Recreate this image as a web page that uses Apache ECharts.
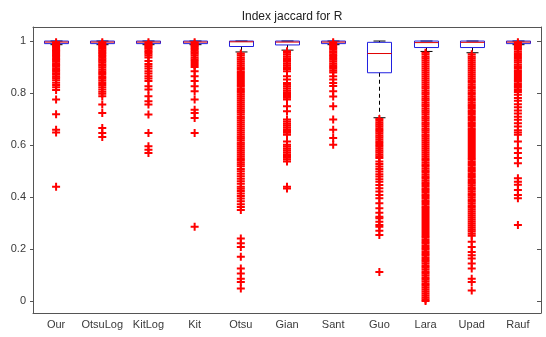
<!DOCTYPE html>
<html><head><meta charset="utf-8">
<script src="https://cdn.jsdelivr.net/npm/echarts@6/dist/echarts.min.js"></script>
<style>html,body{margin:0;padding:0;background:#fff}#c{width:546px;height:337px}</style>
</head><body><div id="c"></div>
<script>
const categories = ['Our','OtsuLog','KitLog','Kit','Otsu','Gian','Sant','Guo','Lara','Upad','Rauf'];
const yTicks = [0, 0.2, 0.4, 0.6, 0.8, 1];

// box statistics per category
const lowerWhisker = [0.986, 0.986, 0.986, 0.986, 0.958, 0.965, 0.986, 0.705, 0.960, 0.955, 0.986];
const q1           = [0.990, 0.990, 0.990, 0.990, 0.979, 0.985, 0.990, 0.878, 0.975, 0.975, 0.990];
const median       = [0.996, 0.996, 0.996, 0.996, 0.997, 0.996, 0.996, 0.952, 0.994, 0.995, 0.996];
const q3           = [1.000, 1.000, 1.000, 1.000, 1.000, 1.000, 1.000, 0.995, 1.000, 1.000, 1.000];
const upperWhisker = [1.000, 1.000, 1.000, 1.000, 1.000, 1.000, 1.000, 1.000, 1.000, 1.000, 1.000];

// outliers per category
const outOur = [0.995,0.99,0.986,0.981,0.976,0.971,0.966,0.962,0.957,0.952,0.947,0.942,0.937,0.931,0.926,0.92,0.914,0.908,0.902,0.895,0.889,0.883,0.876,0.87,0.863,0.857,0.849,0.84,0.831,0.822,0.812,0.775,0.718,0.659,0.648,0.44];
const outOtsuLog = [0.995,0.99,0.985,0.98,0.975,0.97,0.965,0.96,0.954,0.948,0.942,0.936,0.93,0.924,0.918,0.911,0.905,0.898,0.891,0.884,0.877,0.87,0.862,0.855,0.847,0.839,0.831,0.822,0.814,0.805,0.797,0.788,0.756,0.723,0.666,0.646,0.631];
const outKitLog = [0.995,0.99,0.985,0.98,0.975,0.97,0.964,0.958,0.951,0.944,0.937,0.923,0.912,0.903,0.894,0.884,0.875,0.865,0.856,0.846,0.826,0.814,0.788,0.768,0.756,0.717,0.646,0.595,0.582,0.569];
const outKit = [0.995,0.99,0.985,0.98,0.975,0.969,0.963,0.957,0.951,0.944,0.937,0.93,0.923,0.916,0.908,0.9,0.884,0.865,0.846,0.826,0.807,0.775,0.736,0.723,0.704,0.646,0.286];
const outOtsu = [0.952,0.945,0.937,0.93,0.922,0.915,0.907,0.899,0.892,0.884,0.877,0.869,0.862,0.854,0.846,0.839,0.831,0.824,0.816,0.808,0.801,0.793,0.786,0.778,0.77,0.763,0.755,0.747,0.74,0.732,0.725,0.717,0.709,0.702,0.694,0.687,0.679,0.671,0.664,0.656,0.648,0.641,0.633,0.626,0.618,0.61,0.603,0.595,0.588,0.58,0.572,0.565,0.557,0.549,0.542,0.534,0.526,0.518,0.508,0.499,0.49,0.48,0.47,0.461,0.451,0.44,0.432,0.423,0.414,0.404,0.394,0.384,0.372,0.362,0.35,0.241,0.222,0.208,0.17,0.125,0.106,0.086,0.073,0.048];
const outGian = [0.961,0.955,0.948,0.941,0.934,0.927,0.92,0.913,0.906,0.899,0.892,0.884,0.865,0.852,0.839,0.832,0.825,0.817,0.81,0.803,0.796,0.789,0.782,0.775,0.749,0.73,0.698,0.691,0.683,0.676,0.668,0.661,0.654,0.647,0.64,0.614,0.601,0.594,0.587,0.58,0.572,0.565,0.558,0.551,0.544,0.537,0.44,0.433];
const outSant = [0.995,0.99,0.985,0.979,0.973,0.967,0.961,0.955,0.948,0.942,0.935,0.928,0.921,0.914,0.907,0.9,0.893,0.886,0.879,0.865,0.852,0.839,0.827,0.807,0.787,0.749,0.698,0.659,0.627,0.601];
const outGuo = [0.7,0.693,0.686,0.679,0.672,0.665,0.658,0.651,0.644,0.637,0.63,0.622,0.615,0.608,0.6,0.593,0.586,0.578,0.571,0.564,0.557,0.55,0.537,0.527,0.517,0.508,0.498,0.488,0.479,0.468,0.459,0.446,0.434,0.421,0.408,0.395,0.376,0.357,0.34,0.324,0.318,0.305,0.292,0.286,0.27,0.254,0.112];
const outLara = [0.955,0.948,0.94,0.933,0.925,0.917,0.91,0.902,0.894,0.887,0.879,0.871,0.864,0.856,0.848,0.841,0.833,0.825,0.818,0.81,0.802,0.795,0.787,0.779,0.772,0.764,0.756,0.749,0.741,0.733,0.726,0.718,0.71,0.703,0.695,0.687,0.68,0.672,0.664,0.657,0.649,0.641,0.634,0.626,0.618,0.611,0.603,0.595,0.588,0.58,0.572,0.565,0.557,0.549,0.542,0.534,0.526,0.519,0.511,0.503,0.496,0.488,0.48,0.473,0.465,0.457,0.45,0.442,0.434,0.427,0.419,0.411,0.404,0.396,0.388,0.381,0.373,0.365,0.358,0.35,0.342,0.335,0.327,0.319,0.312,0.304,0.296,0.289,0.281,0.273,0.266,0.258,0.25,0.243,0.235,0.227,0.22,0.212,0.204,0.197,0.189,0.181,0.174,0.166,0.158,0.151,0.143,0.135,0.128,0.12,0.112,0.105,0.097,0.089,0.082,0.074,0.066,0.059,0.051,0.043,0.036,0.028,0.02,0.013,0.006,0.0];
const outUpad = [0.949,0.941,0.934,0.926,0.918,0.911,0.903,0.895,0.888,0.88,0.872,0.865,0.857,0.849,0.842,0.834,0.826,0.819,0.811,0.803,0.796,0.788,0.78,0.773,0.765,0.757,0.75,0.742,0.734,0.727,0.719,0.711,0.704,0.696,0.688,0.681,0.673,0.665,0.658,0.65,0.642,0.635,0.627,0.619,0.612,0.604,0.596,0.589,0.581,0.573,0.566,0.558,0.55,0.543,0.535,0.527,0.52,0.512,0.504,0.497,0.489,0.481,0.474,0.466,0.458,0.451,0.443,0.435,0.428,0.42,0.412,0.405,0.397,0.389,0.382,0.374,0.366,0.359,0.351,0.343,0.336,0.328,0.32,0.313,0.305,0.297,0.29,0.282,0.274,0.267,0.259,0.251,0.228,0.208,0.189,0.176,0.164,0.144,0.125,0.086,0.073,0.041];
const outRauf = [0.995,0.99,0.985,0.979,0.973,0.967,0.96,0.953,0.946,0.939,0.932,0.925,0.918,0.91,0.903,0.896,0.888,0.881,0.873,0.866,0.858,0.85,0.843,0.835,0.827,0.82,0.812,0.804,0.793,0.781,0.77,0.757,0.745,0.733,0.721,0.709,0.697,0.684,0.671,0.657,0.648,0.64,0.614,0.588,0.569,0.55,0.53,0.472,0.459,0.447,0.427,0.408,0.395,0.292];

const outliers = [outOur,outOtsuLog,outKitLog,outKit,outOtsu,outGian,outSant,outGuo,outLara,outUpad,outRauf];

const boxData = categories.map((c,i)=>[i, lowerWhisker[i], q1[i], median[i], q3[i], upperWhisker[i]]);
const outData = [];
outliers.forEach((arr,i)=>arr.forEach(v=>outData.push([i,v])));

const axisCol = '#555';
const labelCol = '#3a3a3a';
const FONT = 'Liberation Sans, Arial, sans-serif';

function renderBox(params, api){
  const i = api.value(0);
  const pLw = api.coord([i, api.value(1)]);
  const pQ1 = api.coord([i, api.value(2)]);
  const pMd = api.coord([i, api.value(3)]);
  const pQ3 = api.coord([i, api.value(4)]);
  const pUw = api.coord([i, api.value(5)]);
  const band = api.size([1,0])[0];
  const bw = band*0.52;
  const cw = bw*0.5;
  const x = Math.round(pQ1[0]) + 0.5;
  return {type:'group', children:[
    {type:'line', shape:{x1:x,y1:pQ3[1],x2:x,y2:pUw[1]}, style:{stroke:'#000', lineDash:[4,3], lineWidth:1}},
    {type:'line', shape:{x1:x,y1:pQ1[1],x2:x,y2:pLw[1]}, style:{stroke:'#000', lineDash:[4,3], lineWidth:1}},
    {type:'line', shape:{x1:x-cw/2,y1:pUw[1],x2:x+cw/2,y2:pUw[1]}, style:{stroke:'#000', lineWidth:1}},
    {type:'line', shape:{x1:x-cw/2,y1:pLw[1],x2:x+cw/2,y2:pLw[1]}, style:{stroke:'#000', lineWidth:1}},
    {type:'rect', shape:{x:x-bw/2,y:pQ3[1],width:bw,height:pQ1[1]-pQ3[1]}, style:{stroke:'#2020e0', fill:null, lineWidth:1}},
    {type:'line', shape:{x1:x-bw/2,y1:pMd[1],x2:x+bw/2,y2:pMd[1]}, style:{stroke:'#e00000', lineWidth:1}}
  ]};
}

const chart = echarts.init(document.getElementById('c'), null, {renderer:'canvas'});
chart.setOption({
  animation:false,
  backgroundColor:'#fff',
  title:{text:'Index jaccard for R', left:287, top:6, textAlign:'center',
    textStyle:{fontSize:12, fontWeight:'normal', color:'#222', fontFamily:FONT}},
  grid:{left:33, right:5, top:27, bottom:24},
  xAxis:[
    {type:'category', data:categories, position:'bottom',
      axisLine:{onZero:false, lineStyle:{color:axisCol}},
      axisTick:{alignWithLabel:true, inside:true, length:4, lineStyle:{color:axisCol}},
      axisLabel:{interval:0, color:labelCol, fontSize:11, margin:6, fontFamily:FONT},
      splitLine:{show:false}},
    {type:'category', data:categories, position:'top',
      axisLine:{onZero:false, lineStyle:{color:axisCol}},
      axisTick:{alignWithLabel:true, inside:true, length:4, interval:0, lineStyle:{color:axisCol}},
      axisLabel:{show:false}, splitLine:{show:false}}
  ],
  yAxis:[
    {type:'value', min:-0.046, max:1.054, position:'left',
      axisLine:{show:true, lineStyle:{color:axisCol}},
      axisTick:{show:true, customValues:yTicks, inside:false, length:3, lineStyle:{color:axisCol}},
      axisLabel:{customValues:yTicks, color:labelCol, fontSize:11, margin:7, fontFamily:FONT,
        formatter:v=>String(Math.round(v*10)/10)},
      splitLine:{show:false}},
    {type:'value', min:-0.046, max:1.054, position:'right',
      axisLine:{show:true, lineStyle:{color:axisCol}},
      axisTick:{show:true, customValues:yTicks, inside:true, length:4, lineStyle:{color:axisCol}},
      axisLabel:{show:false}, splitLine:{show:false}}
  ],
  series:[
    {type:'custom', xAxisIndex:0, yAxisIndex:0, renderItem:renderBox, data:boxData,
      encode:{x:0, y:[1,2,3,4,5]}, z:2},
    {type:'scatter', xAxisIndex:0, yAxisIndex:0, data:outData,
      symbol:'path://M3,0H5V3H8V5H5V8H3V5H0V3H3Z', symbolSize:8,
      itemStyle:{color:'#ff0000', opacity:1}, z:3, silent:true}
  ]
});
</script></body></html>
